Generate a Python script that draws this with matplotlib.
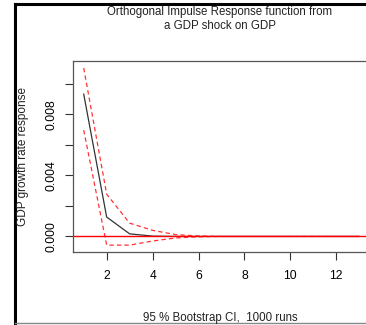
import numpy as np
import matplotlib
matplotlib.use("Agg")
import matplotlib.pyplot as plt
from matplotlib.lines import Line2D

plt.rcParams['font.family'] = ['Liberation Sans', 'DejaVu Sans']

# impulse response horizon and bootstrap bands
horizon = np.arange(1, 14)
irf = [0.00933, 0.00127, 0.00017, 0.00002, 0.0, 0.0, 0.0, 0.0, 0.0, 0.0, 0.0, 0.0, 0.0]
upper = [0.01104, 0.00277, 0.00087, 0.00040, 0.00012, 0.00003, 0.0, 0.0, 0.0, 0.0, 0.0, 0.0, 0.0]
lower = [0.00697, -0.00057, -0.00057, -0.00030, -0.00010, -0.00002, 0.0, 0.0, 0.0, 0.0, 0.0, 0.0, 0.0]
yticks = [0.0, 0.002, 0.004, 0.006, 0.008, 0.010]
ylabels = ['0.000', '', '0.004', '', '0.008', '']
xticks = [2, 4, 6, 8, 10, 12]

fig = plt.figure(figsize=(3.66, 3.25), dpi=100)
# plot region runs off the right edge, so the box is open on that side
ax = fig.add_axes([0.1986, 0.2237, 0.813, 0.5886])
ax.set_frame_on(False)

ax.plot(horizon, irf, color='#333333', lw=0.9)
ax.plot(horizon, upper, color='#ff3333', lw=0.9, ls=(0, (3.5, 2.5)))
ax.plot(horizon, lower, color='#ff3333', lw=0.9, ls=(0, (3.5, 2.5)))
ax.axhline(0, color='red', lw=1.0)

ax.set_xticks(xticks)
ax.set_yticks(yticks)
ax.set_yticklabels(ylabels, rotation=90, va='center')
ax.set_xlim(0.52, 13.48)
ax.set_ylim(-0.00104, 0.01150)
ax.tick_params(direction='out', length=6, width=0.8, color='#333333', labelsize=8.7)
ax.tick_params(axis='x', pad=7)
ax.tick_params(axis='y', pad=5)

# left, bottom and top edges of the box
for xs, ys in [([0, 0], [0, 1]), ([0, 1], [0, 0]), ([0, 1], [1, 1])]:
    ax.add_line(Line2D(xs, ys, transform=ax.transAxes, color='#555555', lw=0.9, clip_on=False))

fig.text(0.601, 0.9415, 'Orthogonal Impulse Response function from\na GDP shock on GDP',
         ha='center', va='center', fontsize=8.3, color='#222222', linespacing=1.2)
fig.text(0.0628, 0.52, 'GDP growth rate response', rotation=90, ha='center', va='center',
         fontsize=8.5, color='#222222')
fig.text(0.601, 0.022, '95 % Bootstrap CI,  1000 runs', ha='center', va='center',
         fontsize=8.3, color='#222222')

# outer frame
fig.add_artist(Line2D([15 / 366, 15 / 366], [0, 321 / 325], color='black', lw=2.2))
fig.add_artist(Line2D([15 / 366, 1], [321 / 325, 321 / 325], color='black', lw=2.2))
fig.add_artist(Line2D([15 / 366, 1], [2 / 325, 2 / 325], color='#888888', lw=1.0))

fig.savefig('out.png', dpi=100)
